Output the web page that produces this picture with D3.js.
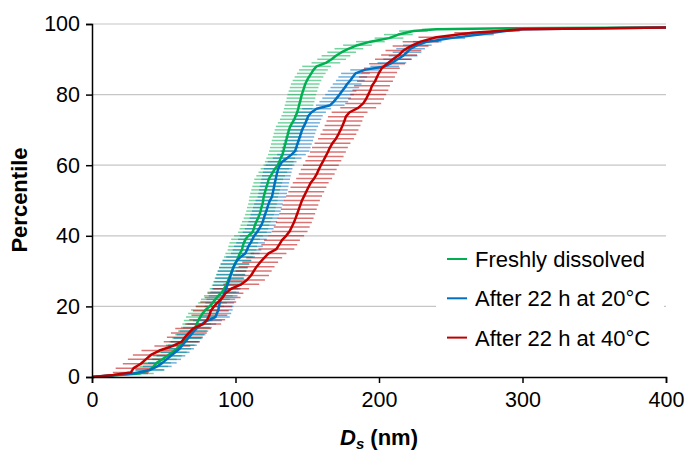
<!DOCTYPE html>
<html><head><meta charset="utf-8">
<script src="https://cdn.jsdelivr.net/npm/d3@7"></script>
<style>body{margin:0;background:#fff}svg{display:block}text{font-family:Arial,"Liberation Sans",sans-serif}</style>
</head><body><svg id="c" width="686" height="452"></svg>
<script>
const xTicks = [0,100,200,300,400];
const yTicks = [0,20,40,60,80,100];
const seriesNames = ["Freshly dissolved","After 22 h at 20°C","After 22 h at 40°C"];
const seriesColors = ["#00B050","#0070C0","#C00000"];
const errHalf = [10, 10, 12.5];   // nm, horizontal error bar half-width

const freshPts = [[33,1],[40,2],[43,3],[45,4],[49,5],[52.5,6],[56,7],[59,8],[61.5,9],[64,10],[66,11],[68,12],[70,13],[72,14],[73,15],[74,16],[75.5,17],[77,18],[79,19],[82,20],[84,21],[86,22],[88,23],[90.5,24],[92,25],[93.5,26],[94.5,27],[95.5,28],[96.5,29],[97.5,30],[98.5,31],[99.5,32],[101,33],[102,34],[103,35],[104.5,36],[105,37],[105.8,38],[107,39],[109,40],[111.8,41],[112.8,42],[113.5,43],[114.5,44],[115.7,45],[116.7,46],[117.5,47],[118,48],[118.8,49],[119.3,50],[119.6,51],[120.3,52],[121,53],[121.7,54],[122.5,55],[123.1,56],[124.5,57],[126,58],[127.5,59],[129.5,60],[130.5,61],[131.5,62],[132.7,63],[133.4,64],[134,65],[134.7,66],[135.3,67],[136,68],[136.6,69],[137.3,70],[138.1,71],[139.5,72],[141,73],[142,74],[143,75],[143.7,76],[144.3,77],[145,78],[145.6,79],[146.2,80],[147,81],[147.8,82],[148.6,83],[149.8,84],[151.2,85],[152.8,86],[154.3,87],[156.5,88],[163,89],[167,90],[170,91],[174,92],[179,93],[185,94],[194,95],[207,96],[213.5,97],[224,98],[240,98.5]];
const freshHead = [[0,0]];
const freshTail = [[290,98.8],[400,99]];

const t20Pts = [[29,1],[40.5,2],[45.5,3],[49,4],[52,5],[55,6],[58,7],[61,8],[63,9],[65,10],[67,11],[69,12],[71,13],[73.5,14],[76.5,15],[80.5,16],[86,17],[87,18],[88,19],[88.5,20],[89,21],[89.8,22],[91.4,23],[92.5,24],[93.5,25],[94.3,26],[95.2,27],[96,28],[96.8,29],[97.6,30],[98.5,31],[99.7,32],[101,33],[103.5,34],[106.8,35],[108,36],[109,37],[110.5,38],[111.8,39],[113,40],[115,41],[116.5,42],[118,43],[119,44],[119.8,45],[120.5,46],[121.5,47],[122.2,48],[123,49],[124,50],[125.4,51],[125.9,52],[126.4,53],[126.9,54],[127.4,55],[128,56],[128.5,57],[129.1,58],[129.7,59],[131,60],[132.5,61],[136,62],[139,63],[141.5,64],[142.3,65],[143.1,66],[144,67],[144.8,68],[145.6,69],[146.4,70],[147.6,71],[148.8,72],[149.8,73],[150.8,74],[153,75],[156.5,76],[166,77],[168.5,78],[170.5,79],[172.5,80],[174.3,81],[176.2,82],[177.8,83],[180,84],[181.7,85],[183.6,86],[190,87],[204,88],[209,89],[213,90],[216.8,91],[219.5,92],[222,93],[226.7,94],[233.6,95],[250,96],[270,97],[288,98]];
const t20Head = [[0,0]];
const t20Tail = [[300,98.5],[400,99]];

const t40Pts = [[27,1.25],[29,2.5],[34,3.75],[37.5,5],[41,6.25],[47,7.5],[56,8.75],[62.5,10],[64.7,11.25],[67.5,12.5],[70.5,13.75],[77.5,15],[80.3,16.25],[81.8,17.5],[82.8,18.75],[85,20],[88,21.25],[91,22.5],[93,23.75],[97,25],[104,26.25],[108,27.5],[110.8,28.75],[112.7,30],[114.7,31.25],[117.2,32.5],[120,33.75],[123,35],[128.5,36.25],[130.5,37.5],[132.4,38.75],[135.3,40],[137.7,41.25],[139.2,42.5],[140.7,43.75],[141.9,45],[143,46.25],[144.1,47.5],[145.2,48.75],[146.3,50],[147.8,51.25],[149.3,52.5],[150.8,53.75],[152.4,55],[154.8,56.25],[156.6,57.5],[158,58.75],[159.5,60],[161.2,61.25],[162.8,62.5],[164.4,63.75],[165.8,65],[167.6,66.25],[170,67.5],[171.7,68.75],[173.2,70],[174.6,71.25],[175.9,72.5],[176.9,73.75],[179.5,75],[185.5,76.25],[189,77.5],[191,78.75],[192.5,80],[194,81.25],[195.1,82.5],[197.2,83.75],[198.6,85],[200.1,86.25],[202,87.5],[205.6,88.75],[209.7,90],[214,91.25],[217,92.5],[222,93.75],[229,95],[240,96.25],[265,97.5]];
const t40Head = [[0,0],[15,0.6]];
const t40Tail = [[300,98.5],[400,99]];

const series = [
  {name: seriesNames[0], color: seriesColors[0], err: errHalf[0], pts: freshPts, head: freshHead, tail: freshTail},
  {name: seriesNames[1], color: seriesColors[1], err: errHalf[1], pts: t20Pts, head: t20Head, tail: t20Tail},
  {name: seriesNames[2], color: seriesColors[2], err: errHalf[2], pts: t40Pts, head: t40Head, tail: t40Tail}
];

const svg = d3.select("#c");
const L = 92, R = 666, T = 24, B = 377;
const x = d3.scaleLinear().domain([0,400]).range([L,R]);
const y = d3.scaleLinear().domain([0,100]).range([B,T]);

// gridlines
svg.append("g").selectAll("line").data(yTicks.filter(d=>d>0)).join("line")
  .attr("x1",L).attr("x2",R).attr("y1",d=>y(d)).attr("y2",d=>y(d))
  .attr("stroke","#c6c6c6").attr("stroke-width",1.2);

// error bars
const eb = svg.append("g");
series.forEach(s=>{
  eb.append("g").selectAll("line").data(s.pts).join("line")
    .attr("x1",d=>x(Math.max(0,d[0]-s.err))).attr("x2",d=>x(d[0]+s.err))
    .attr("y1",d=>y(d[1])).attr("y2",d=>y(d[1]))
    .attr("stroke",s.color).attr("stroke-opacity",0.55).attr("stroke-width",1.5);
});

// lines
const line = d3.line().x(d=>x(d[0])).y(d=>y(d[1]));
series.forEach(s=>{
  svg.append("path").datum(s.head.concat(s.pts, s.tail))
    .attr("d",line).attr("fill","none").attr("stroke",s.color)
    .attr("stroke-width",2.5).attr("stroke-linejoin","round");
});

// legend
const lg = svg.append("g");
lg.append("rect").attr("x",436).attr("y",242).attr("width",228).attr("height",118).attr("fill","#fff");
series.forEach((s,i)=>{
  const yy = 259 + i*39.3;
  lg.append("line").attr("x1",447).attr("x2",467).attr("y1",yy).attr("y2",yy)
    .attr("stroke",s.color).attr("stroke-width",2);
  lg.append("text").attr("x",475).attr("y",yy+8).attr("font-size",22).attr("fill","#000").text(s.name);
});

// axes
const xa = svg.append("g").attr("transform",`translate(0,${B})`)
  .call(d3.axisBottom(x).tickValues(xTicks).tickSize(6).tickPadding(9).tickFormat(d3.format("d")));
const ya = svg.append("g").attr("transform",`translate(${L},0)`)
  .call(d3.axisLeft(y).tickValues(yTicks).tickSize(6).tickPadding(6).tickFormat(d3.format("d")));
[xa,ya].forEach(a=>{
  a.select(".domain").attr("stroke","#000").attr("stroke-width",1.5);
  a.selectAll(".tick line").attr("stroke","#000").attr("stroke-width",1.5);
  a.selectAll(".tick text").attr("font-size",21.5).attr("fill","#000").attr("font-family",'Arial,"Liberation Sans",sans-serif');
});

// axis titles
svg.append("text").attr("transform","translate(27,200) rotate(-90)").attr("text-anchor","middle")
  .attr("font-size",22).attr("font-weight","bold").text("Percentile");
const xt = svg.append("text").attr("x",379).attr("y",445).attr("text-anchor","middle")
  .attr("font-size",22).attr("font-weight","bold");
xt.append("tspan").attr("font-style","italic").text("D");
xt.append("tspan").attr("font-style","italic").attr("font-size",15).attr("dy",4).text("s");
xt.append("tspan").attr("dy",-4).text(" (nm)");
</script></body></html>
